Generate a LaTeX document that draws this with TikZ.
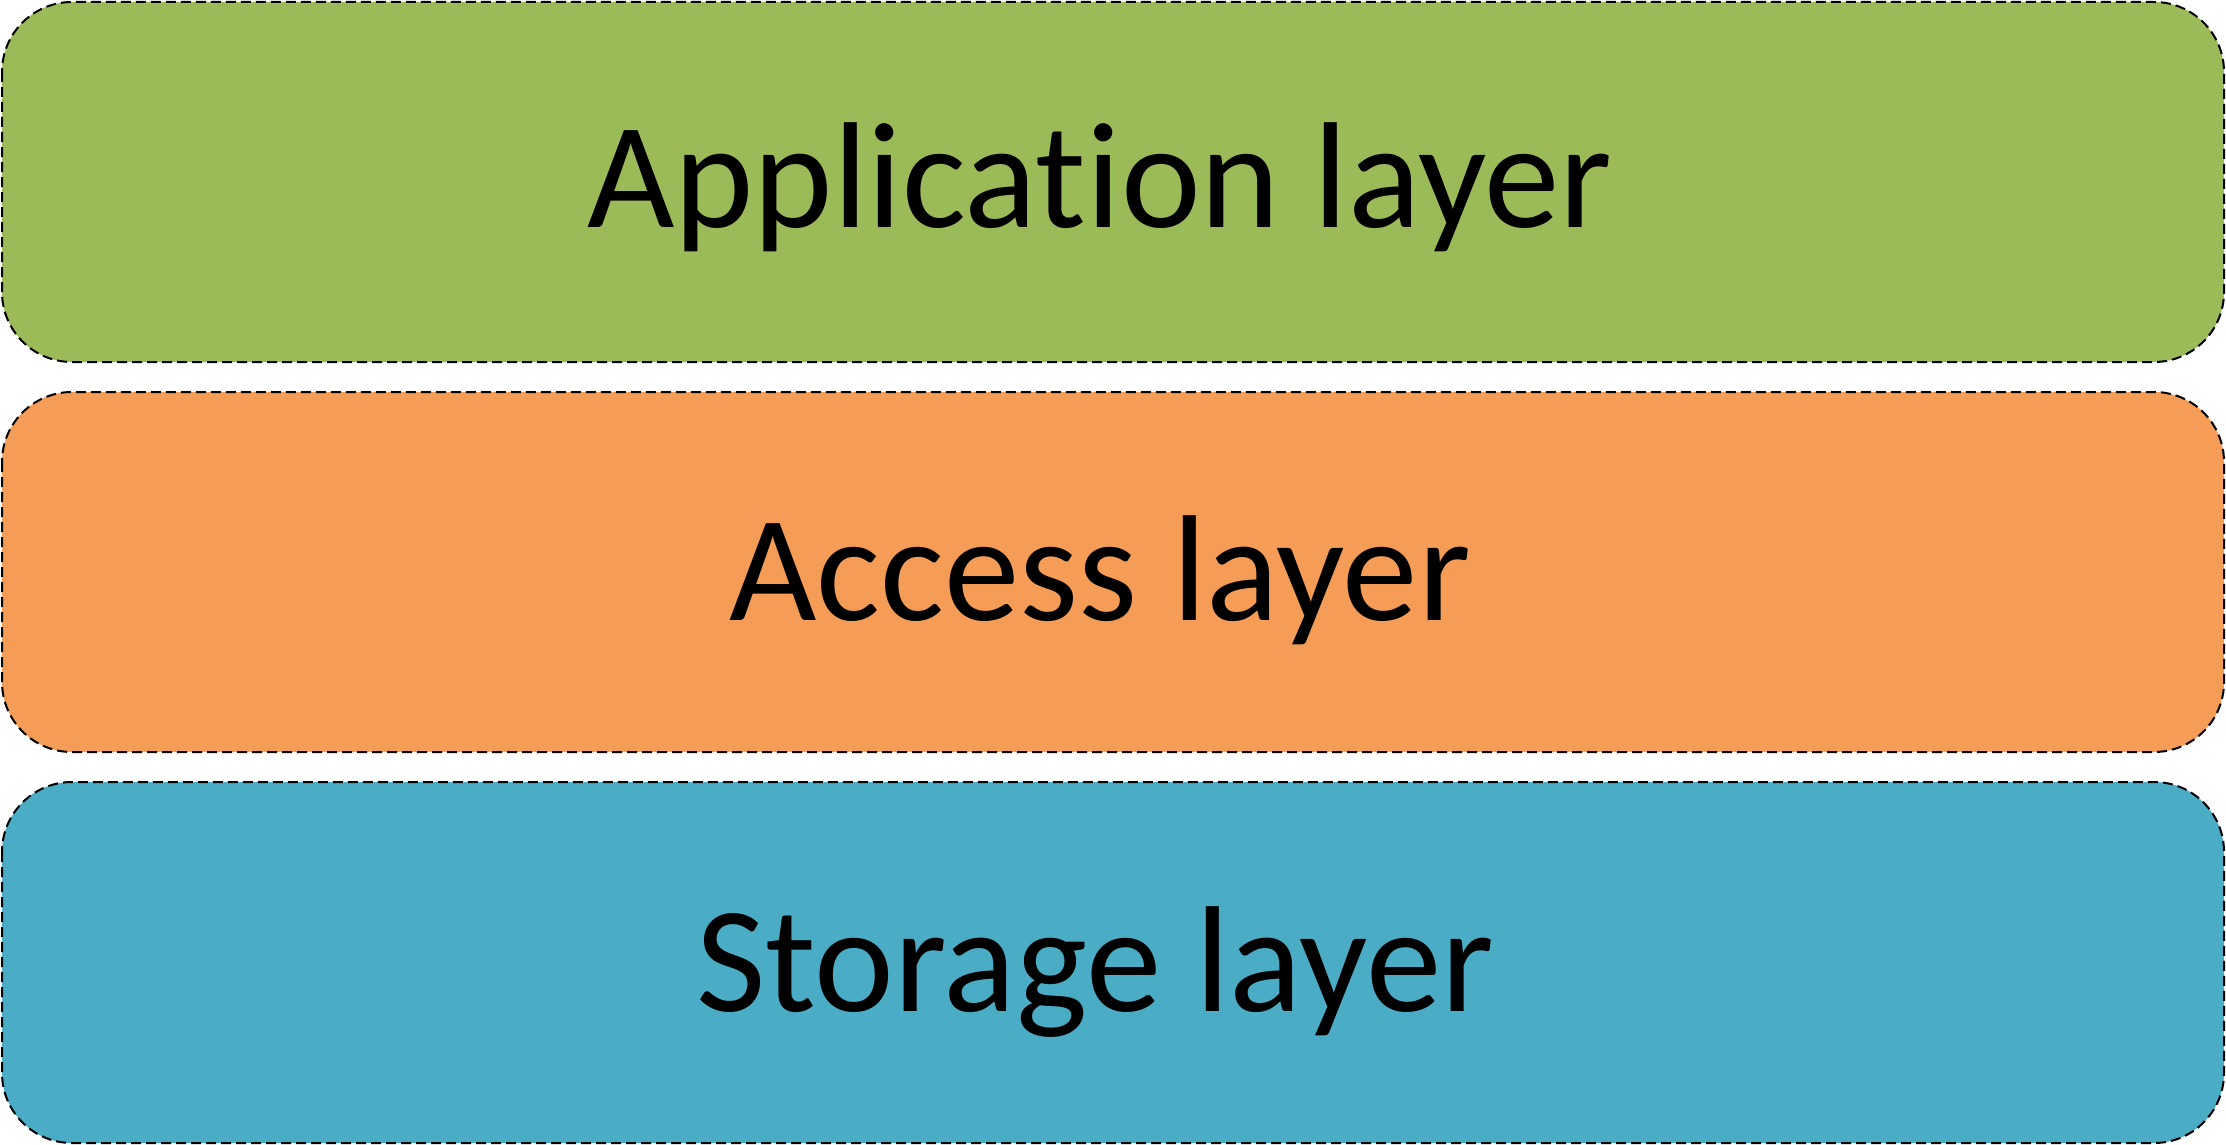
\documentclass[tikz,border=0pt]{standalone}
\usepackage{fontspec}
\setmainfont{Carlito}[Ligatures={NoCommon}]
\definecolor{appgreen}{HTML}{9BBB59}
\definecolor{accorange}{HTML}{F59D56}
\definecolor{storblue}{HTML}{4BACC6}
\begin{document}
\begin{tikzpicture}[x=1pt,y=-1pt,
  layerbox/.style={draw=black, line width=2pt, dash pattern=on 10pt off 5pt, rounded corners=70pt},
  layertext/.style={anchor=base, inner sep=0pt, font=\fontsize{151}{170}\selectfont}]
\useasboundingbox (0,0) rectangle (2226,1145);
\filldraw[layerbox, fill=appgreen] (2,2) rectangle (2224,362);
\filldraw[layerbox, fill=accorange] (2,392) rectangle (2224,752);
\filldraw[layerbox, fill=storblue] (2,782) rectangle (2224,1143);
\node[layertext] (app) at (1100,227) {Application layer};
\node[layertext] (acc) at (1100,620) {Access layer};
\node[layertext] (sto) at (1095,1011) {Storage layer};
\end{tikzpicture}
\end{document}
